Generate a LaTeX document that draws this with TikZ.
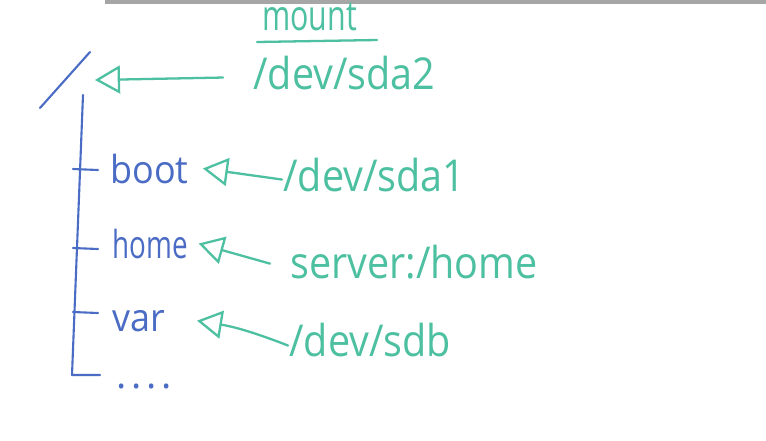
\documentclass[tikz,border=0pt]{standalone}
\usepackage{fontspec}
\setmainfont{Open Sans}
\newfontfamily\hand[FakeStretch=0.9]{Open Sans}
\newfontfamily\penhand[FakeStretch=0.93]{Open Sans}
\newfontfamily\narrow[FakeStretch=0.72]{Open Sans}
\newfontfamily\spread[LetterSpace=12]{Open Sans}
\usetikzlibrary{arrows.meta}
\definecolor{marker}{RGB}{76,192,160}
\definecolor{pen}{RGB}{75,108,196}
\begin{document}
\begin{tikzpicture}[x=0.02cm,y=-0.02cm,
  mnt/.style={text=marker,font=\hand\fontsize{25}{30}\selectfont,anchor=base west,inner sep=0pt},
  dir/.style={text=pen,font=\penhand\fontsize{22}{26}\selectfont,anchor=base west,inner sep=0pt},
  tree/.style={draw=pen,line width=1.2pt,line cap=round,line join=round},
  arr/.style={draw=marker,line width=1.3pt,line cap=round,
    -{Triangle[open,length=0.5cm,width=0.56cm,line width=1.3pt]}}
]
\useasboundingbox[fill=white] (0,0) rectangle (766,440);
\fill[black!35] (105,0) rectangle (766,4);
% title
\node[mnt,font=\narrow\fontsize{24}{28}\selectfont] (title) at (262,30) {mount};
\draw[marker,line width=1.3pt,line cap=round] (257,42) -- (377,40);
% root
\draw[tree] (40,108) -- (90,52);
\coordinate (root) at (95,80);
\draw[tree] (83,95) -- (72,375) -- (100,375);
\foreach \y in {169,248,312}
  \draw[tree] (73,\y) -- (98,\y+1);
% directories
\node[dir] (boot) at (110,183) {boot};
\node[dir,font=\narrow\fontsize{22}{26}\selectfont] (home) at (112,258) {home};
\node[dir] (var) at (112,331) {var};
\node[dir,font=\spread\fontsize{22}{26}\selectfont] (more) at (116,388) {....};
% devices
\node[mnt] (sda2) at (253,89) {/dev/sda2};
\node[mnt] (sda1) at (283,191) {/dev/sda1};
\node[mnt] (srv) at (290,278) {server:/home};
\node[mnt] (sdb) at (289,356) {/dev/sdb};
% mounts
\draw[arr] ([shift={(-30,5)}]sda2.west) -- (root);
\draw[arr] ([shift={(-1,5)}]sda1.west) -- ([xshift=8pt]boot.east);
\draw[arr] ([shift={(-20,2)}]srv.west) -- ([xshift=6pt]home.east);
\draw[arr] ([shift={(-1,6)}]sdb.west) to[bend right=6] ([xshift=18pt]var.east);
\end{tikzpicture}
\end{document}
